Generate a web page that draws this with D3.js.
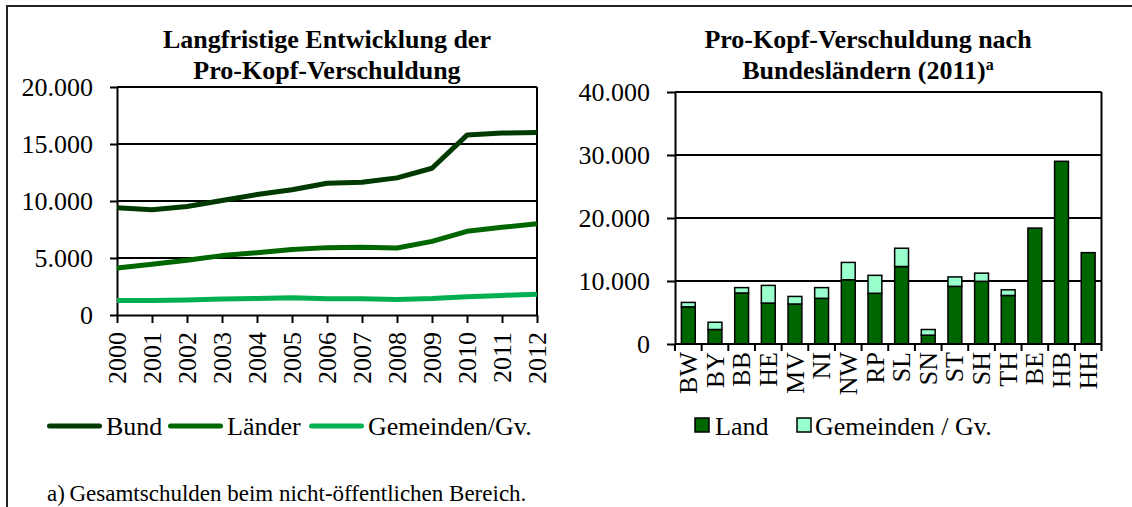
<!DOCTYPE html>
<html lang="de">
<head>
<meta charset="utf-8">
<title>Pro-Kopf-Verschuldung</title>
<script src="https://d3js.org/d3.v7.min.js"></script>
<style>
  body { margin: 0; background: #fff; }
  svg text { font-family: "Liberation Serif", "Times New Roman", Tinos, "Nimbus Roman", FreeSerif, "DejaVu Serif", serif; fill: #000; }
</style>
</head>
<body>
<div id="chart"></div>
<script>
// Langfristige Entwicklung (Euro je Einwohner)
var years = [2000, 2001, 2002, 2003, 2004, 2005, 2006, 2007, 2008, 2009, 2010, 2011, 2012];
var bund = [9400, 9230, 9520, 10050, 10570, 10980, 11560, 11650, 12030, 12870, 15780, 15960, 16010];
var laender = [4130, 4450, 4800, 5210, 5470, 5740, 5910, 5940, 5880, 6460, 7340, 7690, 8010];
var gemeinden = [1280, 1280, 1310, 1400, 1450, 1510, 1430, 1430, 1370, 1450, 1600, 1720, 1830];
var lineNames = ["Bund", "Länder", "Gemeinden/Gv."];
var lineColors = ["#003a00", "#006600", "#00b050"];
var leftTicks = [0, 5000, 10000, 15000, 20000];

// Bundesländer 2011
var states = ["BW", "BY", "BB", "HE", "MV", "NI", "NW", "RP", "SL", "SN", "ST", "SH", "TH", "BE", "HB", "HH"];
var landDebt = [5900, 2300, 8100, 6500, 6350, 7250, 10200, 8050, 12300, 1400, 9150, 9950, 7700, 18400, 29000, 14500];
var gemDebt = [700, 1150, 850, 2800, 1200, 1700, 2750, 2850, 2900, 900, 1500, 1300, 900, 0, 0, 0];
var barNames = ["Land", "Gemeinden / Gv."];
var barColors = ["#006600", "#99ffcc"];
var rightTicks = [0, 10000, 20000, 30000, 40000];

var W = 1132, H = 507;
var serif = "'Liberation Serif', 'Times New Roman', Tinos, 'Nimbus Roman', FreeSerif, 'DejaVu Serif', serif";
var de = d3.formatLocale({ decimal: ",", thousands: ".", grouping: [3], currency: ["", " €"] });
var fmt = de.format(",");

var svg = d3.select("#chart").append("svg")
  .attr("width", W).attr("height", H)
  .attr("font-family", serif);

// outer frame (top and left)
svg.append("path")
  .attr("d", "M7," + H + "V6H" + W)
  .attr("fill", "none").attr("stroke", "#222").attr("stroke-width", 2);

function styleAxis(g) {
  g.attr("font-family", serif);
  g.select(".domain").attr("stroke", "#000").attr("stroke-width", 2);
  g.selectAll(".tick line").attr("stroke", "#000").attr("stroke-width", 2);
  g.selectAll("text").attr("font-size", 26).attr("fill", "#000");
}

// ---------- left: line chart ----------
var x1 = d3.scalePoint().domain(years).range([117, 537]);
var y1 = d3.scaleLinear().domain([0, 20000]).range([315, 87]);

var left = svg.append("g");

left.append("g").selectAll("line").data(leftTicks.slice(1)).join("line")
  .attr("x1", 117).attr("x2", 537)
  .attr("y1", function (d) { return y1(d); }).attr("y2", function (d) { return y1(d); })
  .attr("stroke", "#000").attr("stroke-width", 2);
left.append("line").attr("x1", 537).attr("x2", 537).attr("y1", y1(20000)).attr("y2", y1(0))
  .attr("stroke", "#000").attr("stroke-width", 2);

left.append("g").attr("transform", "translate(117,0)")
  .call(d3.axisLeft(y1).tickValues(leftTicks).tickFormat(fmt).tickSize(7).tickPadding(17).tickSizeOuter(0))
  .call(styleAxis);

var xAxisL = left.append("g").attr("transform", "translate(0,315)")
  .call(d3.axisBottom(x1).tickSize(8).tickSizeOuter(0).tickFormat(d3.format("d")))
  .call(styleAxis);
xAxisL.selectAll("text")
  .attr("transform", "rotate(-90)")
  .attr("text-anchor", "end")
  .attr("x", -17).attr("y", 0).attr("dy", "0.33em");

var series = [bund, laender, gemeinden];
var line = d3.line().x(function (d, i) { return x1(years[i]); }).y(function (d) { return y1(d); });
left.append("g").selectAll("path").data(series).join("path")
  .attr("d", line)
  .attr("fill", "none")
  .attr("stroke", function (d, i) { return lineColors[i]; })
  .attr("stroke-width", 5)
  .attr("stroke-linejoin", "round");

left.append("text").attr("x", 327).attr("y", 48).attr("text-anchor", "middle")
  .attr("font-size", 26).attr("font-weight", "bold").text("Langfristige Entwicklung der");
left.append("text").attr("x", 327).attr("y", 79).attr("text-anchor", "middle")
  .attr("font-size", 26).attr("font-weight", "bold").text("Pro-Kopf-Verschuldung");

// legend
var legL = [{ x: 47, t: 106 }, { x: 168, t: 227 }, { x: 309, t: 368 }];
var lg = left.append("g").selectAll("g").data(lineNames).join("g");
lg.append("line")
  .attr("x1", function (d, i) { return legL[i].x + 2.5; })
  .attr("x2", function (d, i) { return legL[i].x + 52.5; })
  .attr("y1", 426).attr("y2", 426)
  .attr("stroke", function (d, i) { return lineColors[i]; })
  .attr("stroke-width", 5).attr("stroke-linecap", "round");
lg.append("text")
  .attr("x", function (d, i) { return legL[i].t; })
  .attr("y", 435).attr("font-size", 26)
  .text(function (d) { return d; });

svg.append("text").attr("x", 47).attr("y", 501).attr("font-size", 23)
  .text("a)\u2009Gesamtschulden beim nicht-öffentlichen Bereich.");

// ---------- right: stacked bars ----------
var x2 = d3.scaleBand().domain(states).range([675, 1101.5]).paddingInner(0.48).paddingOuter(0.24);
var y2 = d3.scaleLinear().domain([0, 40000]).range([344, 92]);

var right = svg.append("g");
right.append("g").selectAll("line").data(rightTicks.slice(1)).join("line")
  .attr("x1", 675).attr("x2", 1101.5)
  .attr("y1", function (d) { return y2(d); }).attr("y2", function (d) { return y2(d); })
  .attr("stroke", "#000").attr("stroke-width", 2);
right.append("line").attr("x1", 1101.5).attr("x2", 1101.5).attr("y1", y2(40000)).attr("y2", y2(0))
  .attr("stroke", "#000").attr("stroke-width", 2);

right.append("g").attr("transform", "translate(675,0)")
  .call(d3.axisLeft(y2).tickValues(rightTicks).tickFormat(fmt).tickSize(8).tickPadding(17).tickSizeOuter(0))
  .call(styleAxis);

var table = states.map(function (s, i) { return { state: s, land: landDebt[i], gem: gemDebt[i] }; });
var stacked = d3.stack().keys(["land", "gem"])(table);

right.append("g").selectAll("g").data(stacked).join("g")
  .attr("fill", function (d, i) { return barColors[i]; })
  .selectAll("rect").data(function (d) { return d.filter(function (v) { return v[1] > v[0]; }); }).join("rect")
  .attr("x", function (d) { return x2(d.data.state); })
  .attr("width", x2.bandwidth())
  .attr("y", function (d) { return y2(d[1]); })
  .attr("height", function (d) { return y2(d[0]) - y2(d[1]); })
  .attr("stroke", "#000").attr("stroke-width", 1.5);

// x axis with ticks between categories
var xAxisR = right.append("g").attr("transform", "translate(0,344)");
xAxisR.append("line").attr("x1", 675).attr("x2", 1101.5).attr("y1", 0).attr("y2", 0)
  .attr("stroke", "#000").attr("stroke-width", 2);
var step = x2.step();
xAxisR.selectAll(".sep").data(d3.range(states.length + 1)).join("line")
  .attr("class", "sep")
  .attr("x1", function (i) { return 675 + i * step; }).attr("x2", function (i) { return 675 + i * step; })
  .attr("y1", 0).attr("y2", 7)
  .attr("stroke", "#000").attr("stroke-width", 2);
xAxisR.selectAll("text").data(states).join("text")
  .attr("transform", function (d) { return "translate(" + (x2(d) + x2.bandwidth() / 2) + ",8) rotate(-90)"; })
  .attr("text-anchor", "end").attr("dy", "0.33em")
  .attr("font-size", 26)
  .text(function (d) { return d; });

right.append("text").attr("x", 868).attr("y", 48).attr("text-anchor", "middle")
  .attr("font-size", 26).attr("font-weight", "bold").text("Pro-Kopf-Verschuldung nach");
var t2 = right.append("text").attr("x", 868).attr("y", 79).attr("text-anchor", "middle")
  .attr("font-size", 26).attr("font-weight", "bold");
t2.append("tspan").text("Bundesländern (2011)");
t2.append("tspan").attr("font-size", 16).attr("dy", -9).text("a");

// legend
var legR = [{ x: 695, t: 715 }, { x: 797, t: 815 }];
var rg = right.append("g").selectAll("g").data(barNames).join("g");
rg.append("rect")
  .attr("x", function (d, i) { return legR[i].x; }).attr("y", 418)
  .attr("width", 14).attr("height", 14)
  .attr("fill", function (d, i) { return barColors[i]; })
  .attr("stroke", "#000").attr("stroke-width", 1.5);
rg.append("text")
  .attr("x", function (d, i) { return legR[i].t; })
  .attr("y", 435).attr("font-size", 26)
  .text(function (d) { return d; });
</script>
</body>
</html>
